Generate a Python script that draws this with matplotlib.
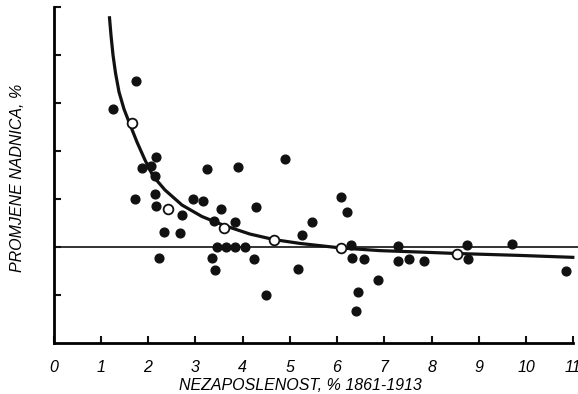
import matplotlib.pyplot as plt

plt.rcParams['font.family'] = ['Liberation Sans', 'DejaVu Sans']

# godisnji podaci (nezaposlenost %, promjena nadnica %)
nezap = [1.265, 1.745, 1.724, 1.879, 2.056, 2.168, 2.147, 2.158, 2.162, 2.232,
         2.348, 2.676, 2.725, 2.962, 3.156, 3.252, 3.353, 3.395, 3.410, 3.453,
         3.643, 3.833, 4.045, 3.543, 3.846, 3.897, 4.278, 4.242, 4.489, 4.891,
         5.166, 5.261, 5.479, 6.076, 6.203, 6.287, 6.308, 6.575, 6.399, 6.448,
         6.859, 7.282, 7.282, 7.521, 7.834, 8.741, 8.763, 9.693, 10.836]
nadnice = [5.76, 6.92, 2.00, 3.28, 3.39, 3.76, 2.96, 2.20, 1.71, -0.47,
           0.63, 0.60, 1.33, 2.00, 1.93, 3.27, -0.47, 1.10, -0.96, 0.0,
           0.0, 0.0, 0.0, 1.57, 1.04, 3.32, 1.65, -0.49, -1.99, 3.65,
           -0.93, 0.52, 1.06, 2.10, 1.47, 0.08, -0.47, -0.49, -2.67, -1.89,
           -1.38, 0.05, -0.58, -0.51, -0.58, 0.08, -0.51, 0.11, -0.99]

# prosjeci po razredima nezaposlenosti
prosjek_x = [1.661, 2.429, 3.607, 4.665, 6.076, 8.530]
prosjek_y = [5.18, 1.60, 0.80, 0.29, -0.06, -0.28]

# krivulja ocitana sa slike
krivulja_x = [1.185, 1.216, 1.259, 1.312, 1.386, 1.491, 1.597, 1.766, 1.936,
              2.105, 2.359, 2.718, 3.142, 3.607, 4.157, 4.665, 5.215, 6.082,
              6.907, 7.753, 8.536, 9.869, 10.990]
krivulja_y = [9.55, 8.83, 8.00, 7.25, 6.46, 5.75, 5.21, 4.375, 3.625,
              2.96, 2.375, 1.75, 1.27, 0.90, 0.54, 0.31, 0.15, -0.04,
              -0.15, -0.21, -0.27, -0.35, -0.43]

fig = plt.figure(figsize=(5.78, 3.94), dpi=100)
ax = fig.add_axes([0.0926, 0.1294, 0.9074, 0.8528])

ax.axhline(0, color='#111111', linewidth=1.2, zorder=1)
ax.plot(krivulja_x, krivulja_y, color='#111111', linewidth=2.3, zorder=2)
ax.plot(nezap, nadnice, 'o', color='#111111', markersize=6.3, linestyle='none', zorder=3)
ax.plot(prosjek_x, prosjek_y, 'o', markerfacecolor='white', markeredgecolor='#111111',
        markeredgewidth=1.3, markersize=7, linestyle='none', zorder=4)

ax.set_xlim(0, 11.1)
ax.set_ylim(-4, 10)
ax.spines['top'].set_visible(False)
ax.spines['right'].set_visible(False)
ax.spines['left'].set_linewidth(2)
ax.spines['bottom'].set_linewidth(2)
ax.spines['bottom'].set_bounds(0, 11)

ax.set_xticks(range(0, 12))
ax.set_xticklabels([str(i) for i in range(0, 12)], fontstyle='italic', fontsize=11.5)
ax.set_yticks([-2, 0, 2, 4, 6, 8, 10])
ax.set_yticklabels([])
ax.tick_params(direction='in', length=5, width=1.5, color='#111111')
ax.tick_params(axis='x', pad=12)

ax.set_xlabel('NEZAPOSLENOST, % 1861-1913', fontstyle='italic', fontsize=11.5)
ax.xaxis.set_label_coords(0.47, -0.105)
ax.set_ylabel('PROMJENE NADNICA, %', fontstyle='italic', fontsize=11.5)
ax.yaxis.set_label_coords(-0.054, 0.49)

fig.savefig('out.png', dpi=100)
